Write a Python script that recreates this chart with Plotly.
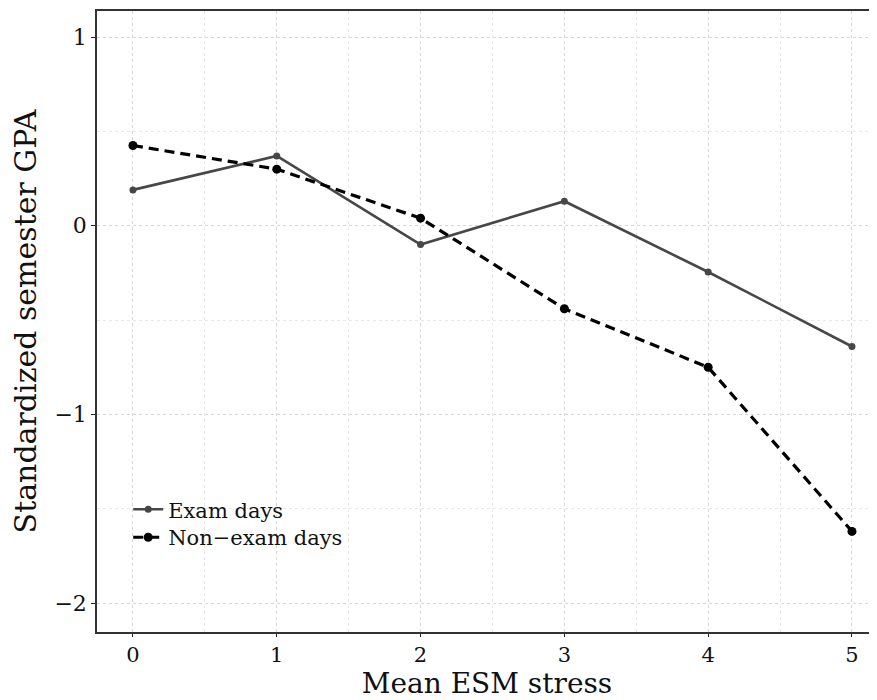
import plotly.graph_objects as go

stress = [0, 1, 2, 3, 4, 5]
exam_gpa = [0.19, 0.37, -0.10, 0.13, -0.245, -0.64]
nonexam_gpa = [0.425, 0.30, 0.04, -0.44, -0.75, -1.62]
x_ticks = [0, 1, 2, 3, 4, 5]
y_ticks = [-2, -1, 0, 1]
y_tick_text = ["\u22122", "\u22121", "0", "1"]

FONT = "DejaVu Serif"

fig = go.Figure()
fig.add_trace(go.Scatter(
    x=stress, y=exam_gpa, name="Exam days", mode="lines+markers",
    line=dict(color="#474747", width=2.6),
    marker=dict(color="#474747", size=7),
    legend="legend",
))
fig.add_trace(go.Scatter(
    x=stress, y=nonexam_gpa, name="Non\u2212exam days", mode="lines+markers",
    line=dict(color="#000000", width=3.2, dash="10px,6px"),
    marker=dict(color="#000000", size=9),
    legend="legend2",
))

leg_common = dict(xanchor="left", yanchor="middle", bgcolor="rgba(0,0,0,0)",
                  font=dict(size=21, family=FONT, color="#111"), itemwidth=30,
                  borderwidth=0)

fig.update_layout(
    width=869, height=692,
    margin=dict(l=89, r=0, t=3, b=68),
    paper_bgcolor="white", plot_bgcolor="white",
    font=dict(family=FONT, color="#111111"),
    showlegend=True,
    legend=dict(x=0.04, y=0.197, **leg_common),
    legend2=dict(x=0.04, y=0.152, **leg_common),
    xaxis=dict(range=[-0.25, 5.174], tickvals=x_ticks, ticks="outside", ticklen=3,
               tickcolor="#222", tickfont=dict(size=21, family=FONT),
               showline=True, linecolor="#333", linewidth=1.5, mirror=True,
               title=dict(text="Mean ESM stress", font=dict(size=28, family=FONT), standoff=5),
               minor=dict(dtick=0.5, showgrid=True, gridcolor="#e8e8e8", griddash="dot"),
               showgrid=True, gridcolor="#d6d6d6", griddash="dot", zeroline=False),
    yaxis=dict(range=[-2.153, 1.138], tickvals=y_ticks, ticktext=y_tick_text,
               ticks="outside", ticklen=4,
               tickcolor="#222", tickfont=dict(size=22, family=FONT),
               showline=True, linecolor="#333", linewidth=1.5,
               title=dict(text="Standardized semester GPA", font=dict(size=30, family=FONT), standoff=10),
               minor=dict(tickvals=[-1.5, -0.5, 0.5], showgrid=True, gridcolor="#e8e8e8", griddash="dot"),
               showgrid=True, gridcolor="#d6d6d6", griddash="dot", zeroline=False),
)

fig.write_html("out.html")
